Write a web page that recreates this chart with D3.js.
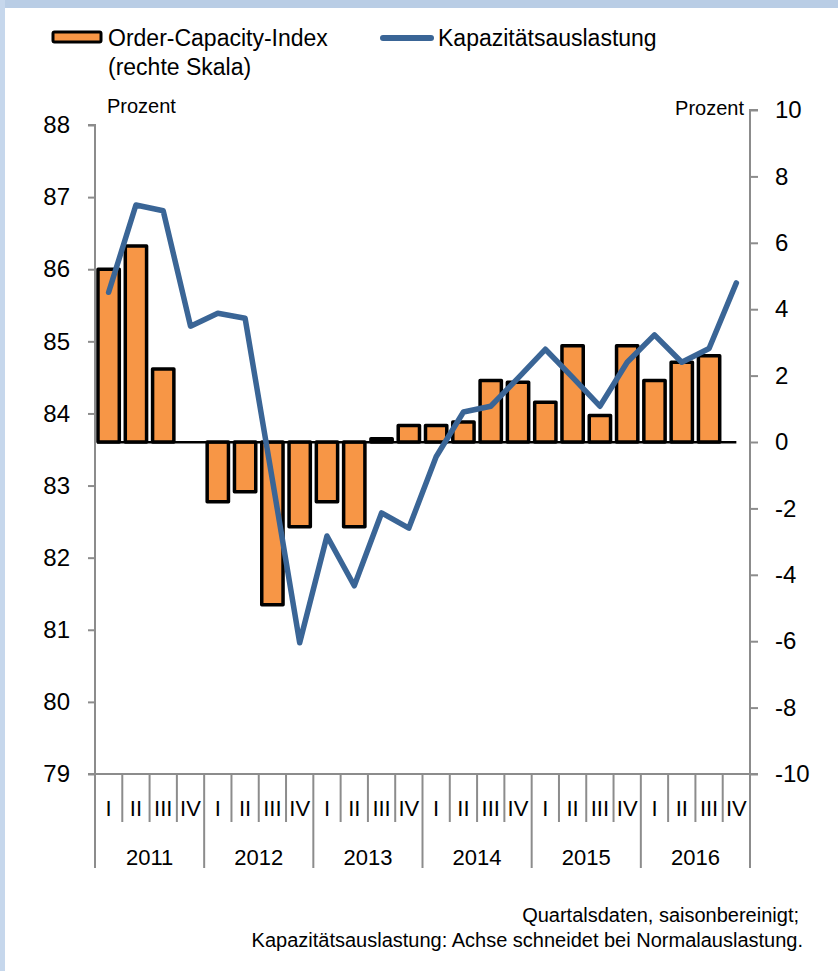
<!DOCTYPE html>
<html>
<head>
<meta charset="utf-8">
<script src="https://cdn.jsdelivr.net/npm/d3@7/dist/d3.min.js"></script>
<style>
  body { margin: 0; background: #fff; }
  svg text { font-family: "Liberation Sans", Arial, sans-serif; fill: #000; }
</style>
</head>
<body>
<svg id="chart" width="838" height="971"></svg>
<script>
// data
var years = ["2011", "2012", "2013", "2014", "2015", "2016"];
var quarters = ["I", "II", "III", "IV"];
// Order-Capacity-Index (rechte Skala), Prozent
var orderCapacity = [
  5.2, 5.9, 2.2, null,
  -1.8, -1.5, -4.9, -2.55,
  -1.8, -2.55, 0.1, 0.5,
  0.5, 0.6, 1.85, 1.8,
  1.2, 2.9, 0.8, 2.9,
  1.85, 2.4, 2.6, null
];
// Kapazitätsauslastung (linke Skala), Prozent
var capacityUtil = [
  85.68, 86.89, 86.81, 85.21,
  85.39, 85.32, 83.08, 80.82,
  82.30, 81.61, 82.62, 82.41,
  83.40, 84.02, 84.10, 84.49,
  84.89, 84.50, 84.10, 84.71,
  85.09, 84.71, 84.90, 85.81
];
var leftTicks = [79, 80, 81, 82, 83, 84, 85, 86, 87, 88];
var rightTicks = [-10, -8, -6, -4, -2, 0, 2, 4, 6, 8, 10];
var normalLevel = 83.6; // Achse schneidet bei Normalauslastung

var svg = d3.select("#chart");
var axisGrey = "#8c8c8c";

// frame
svg.append("rect").attr("x", 0).attr("y", 0).attr("width", 838).attr("height", 8).attr("fill", "#b9cde5");
svg.append("rect").attr("x", 0).attr("y", 0).attr("width", 5).attr("height", 971).attr("fill", "#c6d7ec");

var cats = d3.range(years.length * quarters.length);

var x = d3.scaleBand()
  .domain(cats)
  .range([95, 750])
  .paddingInner(0.22)
  .paddingOuter(0.11);
var step = x.step();

var yLeft = d3.scaleLinear().domain([79, 88]).range([774, 125]);
var yRight = d3.scaleLinear().domain([-10, 10]).range([774, 110]);

// left axis
var leftAxis = d3.axisLeft(yLeft).tickValues(leftTicks).tickSize(7).tickPadding(18);
var gL = svg.append("g").attr("transform", "translate(95,0)").call(leftAxis);
gL.select(".domain").attr("stroke", axisGrey).attr("stroke-width", 2).attr("d", "M-7,125H0V774");
gL.selectAll(".tick line").attr("stroke", axisGrey).attr("stroke-width", 2);
gL.selectAll(".tick text").attr("font-size", 24).attr("fill", "#000")
  .style("font-family", "Liberation Sans, Arial, sans-serif");

// right axis
var rightAxis = d3.axisRight(yRight).tickValues(rightTicks).tickSize(8).tickPadding(17)
  .tickFormat(d3.format("d"));
var gR = svg.append("g").attr("transform", "translate(750,0)").call(rightAxis);
gR.select(".domain").attr("stroke", axisGrey).attr("stroke-width", 2).attr("d", "M8,110H0V774");
gR.selectAll(".tick line").attr("stroke", axisGrey).attr("stroke-width", 2);
gR.selectAll(".tick text").attr("font-size", 24).attr("fill", "#000")
  .text(function(d) { return d < 0 ? "-" + Math.abs(d) : d; })
  .style("font-family", "Liberation Sans, Arial, sans-serif");

// category axis
var gX = svg.append("g").attr("class", "xaxis");
gX.append("line").attr("x1", 88).attr("x2", 758).attr("y1", 774).attr("y2", 774)
  .attr("stroke", axisGrey).attr("stroke-width", 2);
var bounds = d3.range(cats.length + 1);
gX.selectAll("line.sep").data(bounds).enter().append("line")
  .attr("class", "sep")
  .attr("x1", function(i) { return 95 + i * step; })
  .attr("x2", function(i) { return 95 + i * step; })
  .attr("y1", 774)
  .attr("y2", function(i) { return i % 4 === 0 ? 868 : 822; })
  .attr("stroke", axisGrey).attr("stroke-width", 2);
gX.selectAll("text.q").data(cats).enter().append("text")
  .attr("class", "q")
  .attr("x", function(i) { return x(i) + x.bandwidth() / 2; })
  .attr("y", 816)
  .attr("text-anchor", "middle")
  .attr("font-size", 22)
  .text(function(i) { return quarters[i % 4]; });
gX.selectAll("text.yr").data(years).enter().append("text")
  .attr("class", "yr")
  .attr("x", function(d, j) { return 95 + (j * 4 + 2) * step; })
  .attr("y", 865)
  .attr("text-anchor", "middle")
  .attr("font-size", 22)
  .text(function(d) { return d; });

// unit labels
svg.append("text").attr("x", 107).attr("y", 113).attr("font-size", 20).text("Prozent");
svg.append("text").attr("x", 744).attr("y", 115).attr("text-anchor", "end").attr("font-size", 20).text("Prozent");

// bars (right scale)
var barData = cats.filter(function(i) { return orderCapacity[i] != null; });
svg.append("g").selectAll("rect").data(barData).enter().append("rect")
  .attr("x", function(i) { return x(i); })
  .attr("width", x.bandwidth())
  .attr("y", function(i) { return Math.min(yRight(orderCapacity[i]), yRight(0)); })
  .attr("height", function(i) { return Math.abs(yRight(orderCapacity[i]) - yRight(0)); })
  .attr("fill", "#f79646")
  .attr("stroke", "#000")
  .attr("stroke-width", 3.5)
  .attr("stroke-linejoin", "round");

// horizontal axis at normal level
svg.append("line")
  .attr("x1", x(0) - 1).attr("x2", x(cats.length - 1) + x.bandwidth() / 2)
  .attr("y1", yLeft(normalLevel)).attr("y2", yLeft(normalLevel))
  .attr("stroke", "#000").attr("stroke-width", 2.5);

// line (left scale)
var line = d3.line()
  .x(function(d, i) { return x(i) + x.bandwidth() / 2; })
  .y(function(d) { return yLeft(d); });
svg.append("path").datum(capacityUtil)
  .attr("d", line)
  .attr("fill", "none")
  .attr("stroke", "#3a6596")
  .attr("stroke-width", 5.5)
  .attr("stroke-linejoin", "round")
  .attr("stroke-linecap", "round");

// legend
var lg = svg.append("g");
lg.append("rect").attr("x", 53).attr("y", 32).attr("width", 48).attr("height", 10)
  .attr("fill", "#f79646").attr("stroke", "#000").attr("stroke-width", 3).attr("rx", 1.5);
lg.append("text").attr("x", 108).attr("y", 46).attr("font-size", 23).text("Order-Capacity-Index");
lg.append("text").attr("x", 108).attr("y", 75).attr("font-size", 23).text("(rechte Skala)");
lg.append("line").attr("x1", 383).attr("x2", 431).attr("y1", 38).attr("y2", 38)
  .attr("stroke", "#3a6596").attr("stroke-width", 6).attr("stroke-linecap", "round");
lg.append("text").attr("x", 438).attr("y", 46).attr("font-size", 23).text("Kapazitätsauslastung");

// footnote
svg.append("text").attr("x", 799).attr("y", 922).attr("text-anchor", "end").attr("font-size", 20)
  .text("Quartalsdaten, saisonbereinigt;");
svg.append("text").attr("x", 803).attr("y", 947).attr("text-anchor", "end").attr("font-size", 20)
  .text("Kapazitätsauslastung: Achse schneidet bei Normalauslastung.");
</script>
</body>
</html>
